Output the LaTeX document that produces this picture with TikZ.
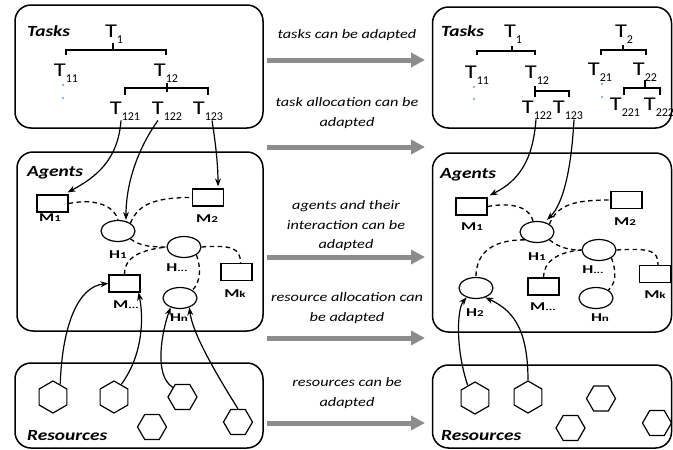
\documentclass[tikz,border=0pt]{standalone}
\usepackage{fontspec}
\setmainfont[FakeStretch=1.25]{Carlito}
\newfontfamily\labfont[FakeStretch=1.45]{Carlito}
\newfontfamily\subfont{Carlito}
\usetikzlibrary{arrows.meta,shapes.geometric}
\newcommand{\Tsub}[1]{T\raisebox{-0.32em}{\subfont\fontsize{12}{12}\selectfont #1}}
\newcommand{\Lsub}[2]{#1{\fontsize{9}{9}\selectfont #2}}
\definecolor{bigarrow}{RGB}{140,140,140}
\definecolor{dotblue}{RGB}{110,150,225}
\tikzset{
  panel/.style={draw, line width=1.5pt, rounded corners=16pt, inner sep=0},
  tl/.style={font=\fontsize{19.5}{19.5}\selectfont, inner sep=0, anchor=base},
  br/.style={line width=1.6pt},
  ttl/.style={font=\bfseries\itshape\fontsize{15.5}{16}\selectfont, anchor=base west, inner sep=0},
  mach/.style={draw, line width=1.2pt, minimum width=31pt, minimum height=17pt, inner sep=0},
  hum/.style={draw, ellipse, line width=1.2pt, minimum width=34pt, minimum height=21pt, inner sep=0},
  lab/.style={font=\labfont\bfseries\fontsize{12}{12}\selectfont, inner sep=0},
  hexp/.style={draw, regular polygon, regular polygon sides=6, shape border rotate=30, minimum size=32pt, line width=1.2pt, inner sep=0},
  hexf/.style={draw, regular polygon, regular polygon sides=6, minimum size=29pt, line width=1.2pt, inner sep=0},
  dsh/.style={dash pattern=on 4.5pt off 3.5pt, line width=1.3pt},
  con/.style={-{Stealth[length=8pt,width=6pt]}, line width=1.2pt},
  big/.style={draw=bigarrow, line width=5pt, -{Triangle[length=14pt,width=14pt]}},
  note/.style={font=\itshape\fontsize{13}{19.5}\selectfont, align=center, inner sep=0},
  bdot/.style={fill=dotblue, circle, inner sep=0, minimum size=2.4pt}
}
\begin{document}
\begin{tikzpicture}[x=1pt,y=-1pt]
\useasboundingbox (0,0) rectangle (673,450);

% ===== panels =====
\node[panel, minimum width=248pt, minimum height=123pt] (LT) at (139,66.5) {};
\node[panel, minimum width=246pt, minimum height=179pt] (LA) at (140,241.5) {};
\node[panel, minimum width=248pt, minimum height=85pt] (LR) at (139,405.5) {};
\node[panel, minimum width=239pt, minimum height=121pt] (RT) at (552,67.5) {};
\node[panel, minimum width=239pt, minimum height=179pt] (RA) at (552,242.5) {};
\node[panel, minimum width=239pt, minimum height=83pt] (RR) at (552,406.5) {};

\node[ttl] (LTt) at (27,36) {Tasks};
\node[ttl] (LAt) at (27,176) {Agents};
\node[ttl] (LRt) at (27,440) {Resources};
\node[ttl] (RTt) at (441,36) {Tasks};
\node[ttl] (RAt) at (440,178) {Agents};
\node[ttl] (RRt) at (441,440) {Resources};

% ===== left task tree =====
\node[tl] (t1) at (114,37) {\Tsub{1}};
\node[tl] (t11) at (66,76) {\Tsub{11}};
\node[tl] (t12) at (166,76) {\Tsub{12}};
\node[tl] (t121) at (125,114) {\Tsub{121}};
\node[tl] (t122) at (167,114) {\Tsub{122}};
\node[tl] (t123) at (208,114) {\Tsub{123}};
\draw[br] (113,43) -- (113,50);
\draw[br] (t11.north |- 0,54.5) -- (t11.north |- 0,50) -- (t12.north |- 0,50) -- (t12.north |- 0,54.5);
\draw[br] (167,83) -- (167,92);
\draw[br] (t121.north |- 0,95) -- (t121.north |- 0,88) -- (t123.north |- 0,88) -- (t123.north |- 0,95);
\node[bdot] (ld1) at (63,85) {};
\node[bdot] (ld2) at (63,98) {};

% ===== right task tree =====
\node[tl] (r1) at (513,37) {\Tsub{1}};
\node[tl] (r11) at (477,78) {\Tsub{11}};
\node[tl] (r12) at (537,78) {\Tsub{12}};
\node[tl] (r122) at (537,113) {\Tsub{122}};
\node[tl] (r123) at (568,113) {\Tsub{123}};
\node[tl] (r2) at (624,37) {\Tsub{2}};
\node[tl] (r21) at (600,75) {\Tsub{21}};
\node[tl] (r22) at (645,75) {\Tsub{22}};
\node[tl] (r221) at (625,110) {\Tsub{221}};
\node[tl] (r222) at (659,110) {\Tsub{222}};
\draw[br] (512,46) -- (512,51);
\draw[br] (477,55) -- (477,51) -- (535,51) -- (535,55);
\draw[br] (535,86) -- (535,97);
\draw[br] (535,91) -- (569,91) -- (569,97);
\draw[br] (623,45) -- (623,50);
\draw[br] (601,54.5) -- (601,50) -- (646,50) -- (646,54.5);
\draw[br] (645,80) -- (645,88);
\draw[br] (624,95) -- (624,88) -- (660,88) -- (660,95);
\node[bdot] (rd1) at (474,87) {};
\node[bdot] (rd2) at (474,99) {};
\node[bdot] (rd3) at (602,84) {};
\node[bdot] (rd4) at (602,97) {};

% ===== left agents =====
\node[mach] (m1) at (52.5,203.5) {};
\node[lab] (m1l) at (50,218) {\Lsub{M}{1}};
\node[mach] (m2) at (208,197.5) {};
\node[lab] (m2l) at (207,219) {\Lsub{M}{2}};
\node[hum] (h1) at (118,231) {};
\node[lab] (h1l) at (118,255) {\Lsub{H}{1}};
\node[hum] (hd) at (184,247) {};
\node[lab] (hdl) at (177,268) {\Lsub{H}{...}};
\node[mach] (mk) at (236.5,272) {};
\node[lab] (mkl) at (235,294) {\Lsub{M}{k}};
\node[mach] (md) at (124.5,283.5) {};
\node[lab] (mdl) at (126,305) {\Lsub{M}{...}};
\node[hum] (hn) at (180,298) {};
\node[lab] (hnl) at (179,318) {\Lsub{H}{n}};

% ===== right agents =====
\node[mach] (rm1) at (471.5,206.5) {};
\node[lab] (rm1l) at (472,227) {\Lsub{M}{1}};
\node[mach] (rm2) at (626.5,200) {};
\node[lab] (rm2l) at (625,222) {\Lsub{M}{2}};
\node[hum] (rh1) at (537,232) {};
\node[lab] (rh1l) at (537,257) {\Lsub{H}{1}};
\node[hum] (rhd) at (599,250) {};
\node[lab] (rhdl) at (593,270) {\Lsub{H}{...}};
\node[mach] (rmk) at (655,274) {};
\node[lab] (rmkl) at (655,295) {\Lsub{M}{k}};
\node[mach] (rmd) at (543.5,286.5) {};
\node[lab] (rmdl) at (543,307) {\Lsub{M}{...}};
\node[hum] (rhn) at (596,298) {};
\node[lab] (rhnl) at (600,318) {\Lsub{H}{n}};
\node[hum] (rh2) at (476,288) {};
\node[lab] (rh2l) at (475,313) {\Lsub{H}{2}};

% ===== resources =====
\node[hexp] (x1) at (53,397) {};
\node[hexp] (x2) at (114,397) {};
\node[hexf] (x3) at (182.5,397) {};
\node[hexf] (x4) at (152,427) {};
\node[hexf] (x5) at (238,422) {};
\node[hexp] (y1) at (475,398) {};
\node[hexp] (y2) at (528,397) {};
\node[hexf] (y3) at (601,398.5) {};
\node[hexf] (y4) at (570.5,428) {};
\node[hexf] (y5) at (657,423) {};

% ===== left connectors =====
\draw[con] ([xshift=-4pt]t121.south) .. controls +(-3,40) and +(28,-15) .. ([xshift=-1pt,yshift=2pt]m1.north east);
\draw[con] ([xshift=-9pt]t122.south) .. controls +(-18,25) and +(0,-40) .. ([xshift=8pt]h1.north);
\draw[con] ([xshift=4pt]t123.south) .. controls +(4,25) and +(0,-20) .. ([xshift=10pt,yshift=2pt]m2.north);
\draw[dsh] (m1.east) .. controls +(30,-6) and +(-3,-12) .. (h1.north);
\draw[dsh] (h1.north east) .. controls +(8,-20) and +(-35,0) .. (m2.west);
\draw[dsh] (h1.south east) .. controls +(10,8) and +(-12,0) .. (hd.west);
\draw[dsh] (md.north) .. controls +(0,-18) and +(-25,3) .. (hd.west);
\draw[dsh] (hd.east) .. controls +(30,-2) and +(0,-15) .. ([xshift=4pt]mk.north);
\draw[dsh] (hd.south east) .. controls +(5,14) and +(8,-8) .. (hn.north east);
\draw[con] (x1.60) .. controls +(2,-60) and +(-30,3) .. (md.west);
\draw[con] (x2.60) .. controls +(22,-30) and +(5,25) .. ([xshift=-2pt]md.south east);
\draw[con] (x3.135) .. controls +(-20,-12) and +(-8,22) .. (hn.225);
\draw[con] (x5.north) .. controls +(-25,-40) and +(3,25) .. (hn.315);

% ===== right connectors =====
\draw[con] ([xshift=-1pt]r122.south) .. controls +(-3,40) and +(30,-15) .. ([xshift=2pt,yshift=2pt]rm1.north east);
\draw[con] ([xshift=6pt]r123.south) .. controls +(-3,55) and +(15,-15) .. ([xshift=10pt,yshift=1pt]rh1.north);
\draw[dsh] (rm1.east) .. controls +(28,-5) and +(-3,-12) .. ([xshift=-4pt]rh1.north);
\draw[dsh] (rh1.north east) .. controls +(8,-20) and +(-35,0) .. (rm2.west);
\draw[dsh] (rh1.south east) .. controls +(10,8) and +(-12,0) .. (rhd.west);
\draw[dsh] (rmd.north) .. controls +(0,-15) and +(-25,2) .. (rhd.west);
\draw[dsh] (rhd.east) .. controls +(35,-2) and +(0,-14) .. ([xshift=3pt]rmk.north);
\draw[dsh] (rhd.south east) .. controls +(5,14) and +(8,-8) .. (rhn.north east);
\draw[dsh] (rh1.south west) .. controls +(-35,0) and +(0,-22) .. (rh2.north);
\draw[con] (y1.120) .. controls +(-12,-35) and +(-10,12) .. (rh2.225);
\draw[con] (y2.north) .. controls +(0,-55) and +(25,12) .. (rh2.315);

% ===== middle arrows =====
\coordinate (a1s) at (267,60);  \coordinate (a1e) at (425,60);
\coordinate (a2s) at (267,147); \coordinate (a2e) at (425,147);
\coordinate (a3s) at (267,257); \coordinate (a3e) at (425,257);
\coordinate (a4s) at (267,338); \coordinate (a4e) at (425,338);
\coordinate (a5s) at (267,423); \coordinate (a5e) at (425,423);
\draw[big] (a1s) -- (a1e);
\draw[big] (a2s) -- (a2e);
\draw[big] (a3s) -- (a3e);
\draw[big] (a4s) -- (a4e);
\draw[big] (a5s) -- (a5e);
\node[note] (n1) at (347,35) {tasks can be adapted};
\node[note] (n2) at (347,113) {task allocation can be\\adapted};
\node[note] (n3) at (346,226) {agents and their\\interaction can be\\adapted};
\node[note] (n4) at (347,308) {resource allocation can\\be adapted};
\node[note] (n5) at (347,393) {resources can be\\adapted};
\end{tikzpicture}
\end{document}
